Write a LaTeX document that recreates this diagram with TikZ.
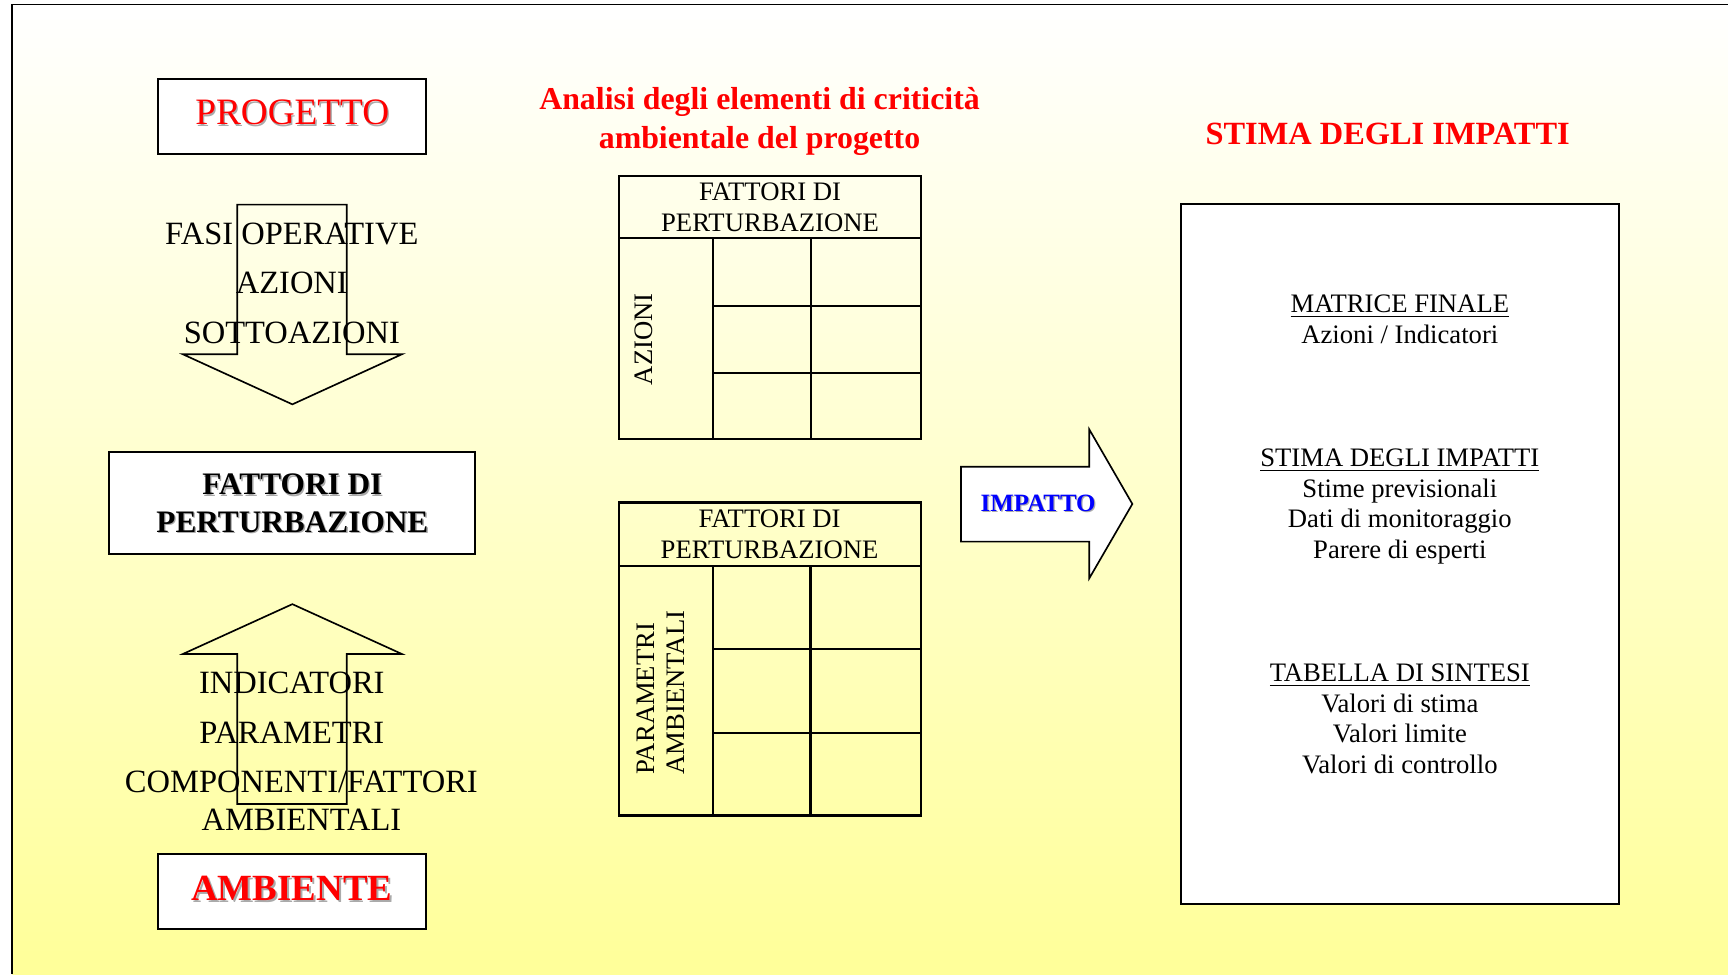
\documentclass[tikz,border=0pt]{standalone}
\usepackage{fontspec}
\setmainfont{Liberation Serif}
\usetikzlibrary{calc}
\definecolor{bgyellow}{RGB}{255,255,153}
\definecolor{pred}{RGB}{255,0,0}
\definecolor{pblue}{RGB}{0,0,255}
\definecolor{shadowgray}{RGB}{170,170,170}
\newcommand\myfs[2]{\fontsize{#1}{#2}\selectfont}
\begin{document}
\begin{tikzpicture}[x=0.5pt,y=-0.5pt,
  box/.style={draw=black,line width=0.9pt,fill=white,inner sep=0pt},
  blockarrow/.style={draw=black,line width=0.75pt},
  gridline/.style={draw=black,line width=1pt},
  txt/.style={inner sep=0pt,anchor=base,align=center},
  shadowtxt/.style={txt,text=shadowgray},
  plain/.style={font=\myfs{14.75}{22.45}},
  cell/.style={font=\myfs{12.1}{14}},
  inbox/.style={font=\myfs{12.1}{13.85}}
]
\useasboundingbox (0,0) rectangle (1568,884);
% background and frame
\shade[top color=white,bottom color=bgyellow] (11,4) rectangle (1568,884);
\draw[line width=0.75pt] (11,884) -- (11,4) -- (1568,4);

% ---------------- left column ----------------
\node[box,minimum width=121.5pt,minimum height=34pt] (progetto) at (264.8,106) {};
\node[shadowtxt,font=\myfs{16.9}{20}] at (266.4,114.8) {PROGETTO};
\node[txt,text=pred,font=\myfs{16.9}{20}] (progettotxt) at (265.2,113.4) {PROGETTO};

\draw[blockarrow] (215.3,185.7) -- (314.6,185.7) -- (314.6,321.5) -- (364.6,321.5)
  -- (265.3,366.9) -- (166,321.5) -- (215.3,321.5) -- cycle;
\node[txt,plain] (fasi) at (264.8,311.5) {FASI OPERATIVE\\AZIONI\\SOTTOAZIONI};

\node[box,minimum width=166pt,minimum height=46.3pt] (fattori) at (265.2,456.7) {};
\node[shadowtxt,font=\myfs{14.2}{17}\bfseries] at (266.5,484.3) {FATTORI DI\\PERTURBAZIONE};
\node[txt,font=\myfs{14.2}{17}\bfseries] (fattoritxt) at (265.3,483) {FATTORI DI\\PERTURBAZIONE};

\draw[blockarrow] (265.3,548.2) -- (364.6,593.4) -- (314.6,593.4) -- (314.6,729.6)
  -- (215.3,729.6) -- (215.3,593.4) -- (166,593.4) -- cycle;
\node[txt,font=\myfs{14.75}{22.4}] (indic) at (264.8,674.5) {INDICATORI\\PARAMETRI};
\node[txt,font=\myfs{14.75}{17.3}] (comp) at (273.5,754) {COMPONENTI/FATTORI\\AMBIENTALI};

\node[box,minimum width=121.5pt,minimum height=33.9pt] (ambiente) at (265,809) {};
\node[shadowtxt,font=\myfs{16.75}{20}\bfseries] at (266.4,818.6) {AMBIENTE};
\node[txt,text=pred,font=\myfs{16.75}{20}\bfseries] (ambientetxt) at (264.8,817.2) {AMBIENTE};

% ---------------- middle column ----------------
\node[txt,text=pred,font=\myfs{14.45}{17.7}\bfseries] (titolo) at (689.2,134.6)
  {Analisi degli elementi di criticità\\ambientale del progetto};

% top matrix
\draw[gridline] (561.7,159.7) rectangle (835.7,398.6);
\draw[gridline] (561.7,215.7) -- (835.7,215.7);
\draw[gridline] (646.7,215.7) -- (646.7,398.6);
\draw[gridline] (735.6,215.7) -- (735.6,398.6);
\draw[gridline] (646.7,277.4) -- (835.7,277.4);
\draw[gridline] (646.7,338.2) -- (835.7,338.2);
\node[txt,cell] (header1) at (698.7,210.2) {FATTORI DI\\PERTURBAZIONE};
\node[inner sep=0pt,cell,rotate=90] (azioni) at (584.5,307.7) {AZIONI};

% bottom matrix
\draw[gridline] (561.5,456) rectangle (835.7,740);
\draw[gridline] (561.5,513.6) -- (835.7,513.6);
\draw[gridline] (646.7,513.6) -- (646.7,740);
\draw[gridline] (735.5,513.6) -- (735.5,740);
\draw[gridline] (646.7,588.9) -- (835.7,588.9);
\draw[gridline] (646.7,664.8) -- (835.7,664.8);
\node[txt,cell] (header2) at (698.3,506.6) {FATTORI DI\\PERTURBAZIONE};
\node[inner sep=0pt,cell,rotate=90,align=left] (parametri) at (599.5,628.4) {PARAMETRI\\AMBIENTALI};

% IMPATTO arrow
\draw[blockarrow,fill=white] (872,423.5) -- (988.4,423.5) -- (988.4,389.6) -- (1027.5,457.3)
  -- (988.4,524.8) -- (988.4,491.5) -- (872,491.5) -- cycle;
\node[shadowtxt,font=\myfs{11.3}{13}\bfseries] at (943.1,465.4) {IMPATTO};
\node[txt,text=pblue,font=\myfs{11.3}{13}\bfseries] (impattotxt) at (942,464.3) {IMPATTO};

% ---------------- right column ----------------
\node[txt,text=pred,font=\myfs{14.7}{17}\bfseries] (stimatitle) at (1259.2,130.7) {STIMA DEGLI IMPATTI};
\node[box,minimum width=199.05pt,minimum height=317.45pt] (bigbox) at (1270.25,502.85) {};
\node[txt,inbox] (matrice) at (1270.2,311.5) {\underline{MATRICE FINALE}\\Azioni / Indicatori};
\node[txt,inbox] (stima) at (1270.2,506.6)
  {\underline{STIMA DEGLI IMPATTI}\\Stime previsionali\\Dati di monitoraggio\\Parere di esperti};
\node[txt,inbox] (tabella) at (1270.2,701.7)
  {\underline{TABELLA DI SINTESI}\\Valori di stima\\Valori limite\\Valori di controllo};
\end{tikzpicture}
\end{document}
